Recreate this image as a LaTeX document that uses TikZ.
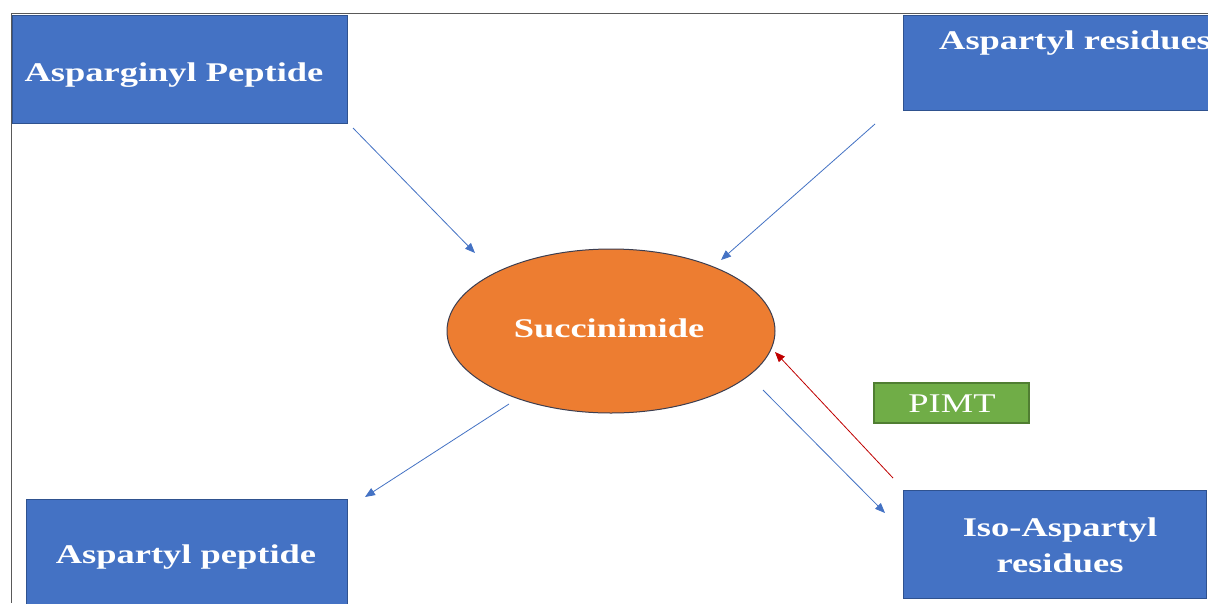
\documentclass[tikz,border=0pt]{standalone}
\usepackage{fontspec}
\setmainfont{Liberation Serif}
\usetikzlibrary{arrows.meta,shapes.geometric}
\definecolor{boxblue}{RGB}{68,114,196}
\definecolor{boxedge}{RGB}{47,82,143}
\definecolor{succorange}{RGB}{237,125,49}
\definecolor{ringedge}{RGB}{60,62,80}
\definecolor{pimtgreen}{RGB}{112,173,71}
\definecolor{pimtedge}{RGB}{80,126,50}
\definecolor{backred}{RGB}{192,0,0}
\definecolor{framegray}{RGB}{89,89,89}
\newcommand{\widetxt}[1]{\scalebox{1.35}[1]{#1}}

\begin{document}
\begin{tikzpicture}[x=1pt,y=-1pt,
  procbox/.style={rectangle,fill=boxblue,draw=boxedge,line width=1pt,inner sep=0pt},
  boxtext/.style={text=white,font=\fontsize{27}{36}\selectfont\bfseries,anchor=base,inner sep=0pt,align=center},
  flow/.style={-{Triangle[length=10pt,width=8pt]},draw=boxblue,line width=.8pt}]
\useasboundingbox (0,0) rectangle (1208,603);
\clip (0,0) rectangle (1208,603);
\fill[white] (0,0) rectangle (1208,603);
\draw[framegray,line width=1pt] (1208,13)--(11,13)--(11,603);
% boxes
\node[procbox,minimum width=335,minimum height=108] (asn) at (179.5,69) {};
\node[boxtext] (asnlab) at (174,81) {\widetxt{Asparginyl Peptide}};
\node[procbox,minimum width=344,minimum height=95] (aspres) at (1075,62.5) {};
\node[boxtext,anchor=base west] (aspreslab) at (939,49) {\widetxt{Aspartyl residues}};
\node[procbox,minimum width=321,minimum height=113] (asppep) at (186.5,555.5) {};
\node[boxtext] (asppeplab) at (186,563) {\widetxt{Aspartyl peptide}};
\node[procbox,minimum width=303,minimum height=108] (isoasp) at (1054.5,544) {};
\node[boxtext] (isoasplab) at (1060,572) {\widetxt{Iso-Aspartyl}\\\widetxt{residues}};
\node[ellipse,fill=succorange,draw=ringedge,line width=1pt,minimum width=328,minimum height=164,inner sep=0pt] (succ) at (611,331) {};
\node[boxtext] (succlab) at (609,337) {\widetxt{Succinimide}};
\node[rectangle,fill=pimtgreen,draw=pimtedge,line width=1.5pt,minimum width=155,minimum height=40,inner sep=0pt] (pimt) at (951.5,403) {};
\node[boxtext,font=\fontsize{27}{30}\selectfont] (pimtlab) at (952,412) {\widetxt{PIMT}};
% arrow ends
\coordinate (asnout) at (353,128);
\coordinate (succnw) at (475,253);
\coordinate (aspout) at (875,124);
\coordinate (succne) at (721,260);
\coordinate (succsw) at (509,404);
\coordinate (asppepin) at (365,497);
\coordinate (succse) at (763,390);
\coordinate (isoin) at (885,513);
\coordinate (isoout) at (893,478);
\coordinate (succe) at (775,352);
\draw[flow] (asnout)--(succnw);
\draw[flow] (aspout)--(succne);
\draw[flow] (succsw)--(asppepin);
\draw[flow] (succse)--(isoin);
\draw[flow,draw=backred] (isoout)--(succe);
\end{tikzpicture}
\end{document}
